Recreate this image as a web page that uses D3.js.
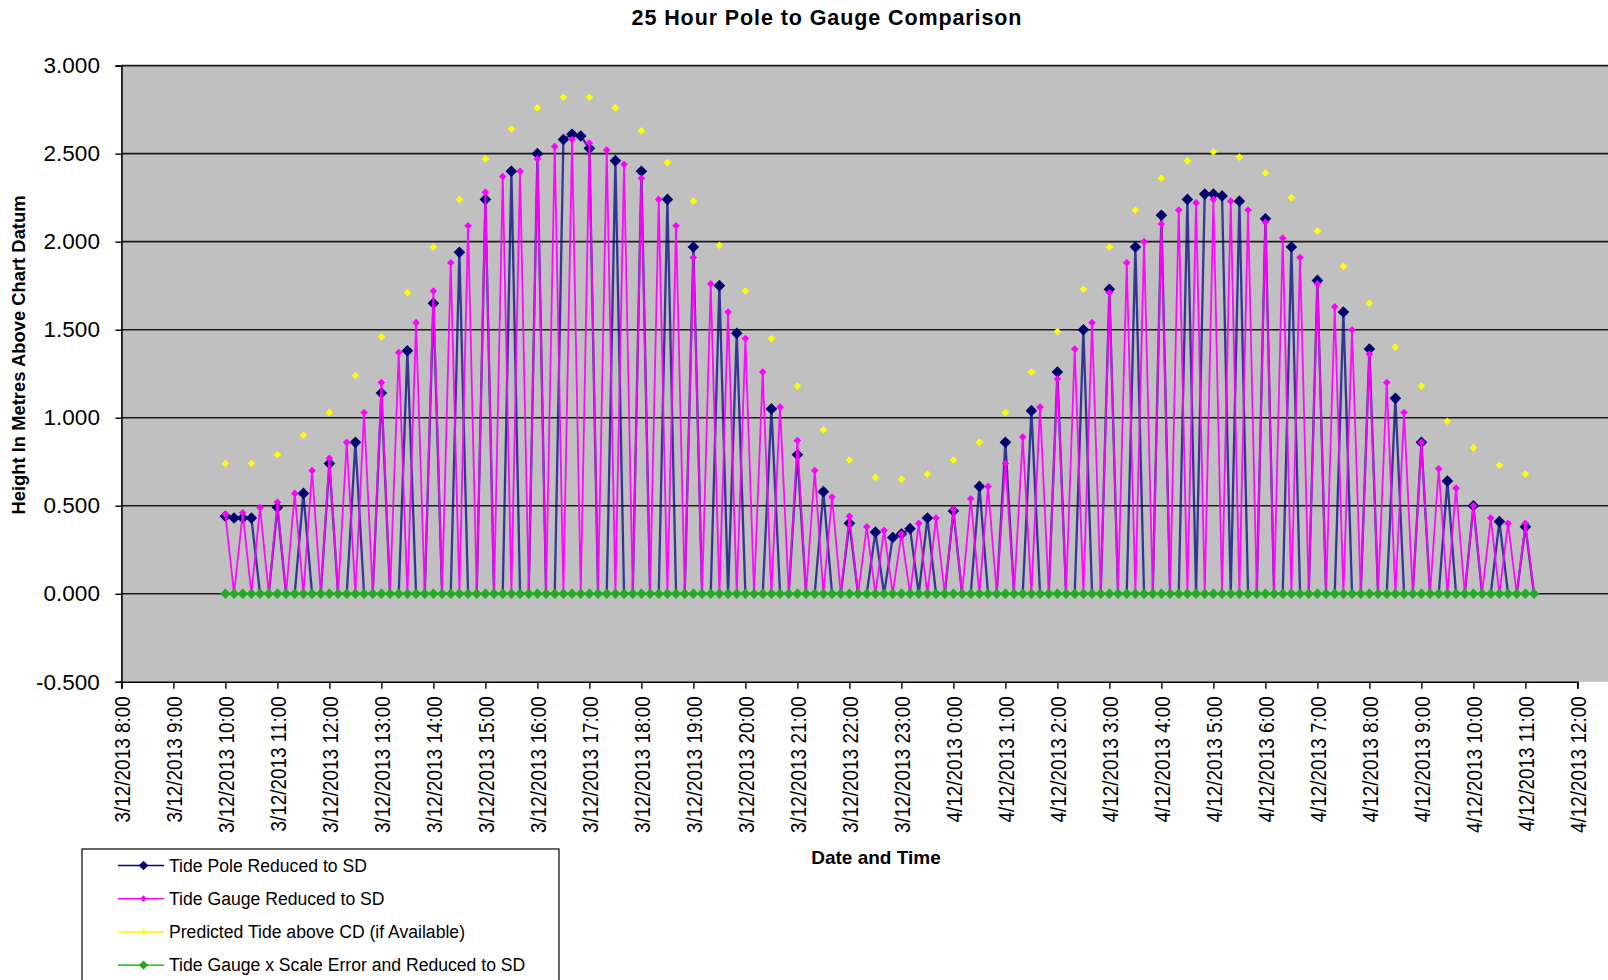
<!DOCTYPE html>
<html><head><meta charset="utf-8">
<script src="https://cdn.jsdelivr.net/npm/d3@7"></script>
<style>
html,body{margin:0;padding:0;background:#fff;}
text{font-family:"Liberation Sans",Arial,sans-serif;}
</style></head>
<body><svg id="chart" width="1608" height="980"></svg>
<script>
// ---------- DATA ----------
const chartTitle = "25 Hour Pole to Gauge Comparison";
const xTitle = "Date and Time";
const yTitle = "Height In Metres Above Chart Datum";
const seriesNames = ["Tide Pole Reduced to SD","Tide Gauge Reduced to SD","Predicted Tide above CD (if Available)","Tide Gauge x Scale Error and Reduced to SD"];
const seriesColors = ["#000080","#FF00FF","#FFFF00","#22AA22"];
const firstSlot = "3/12/2013 10:00";   // readings every 10 minutes from here
const slotMinutes = 10;
const tickLabels = ["3/12/2013 8:00","3/12/2013 9:00","3/12/2013 10:00","3/12/2013 11:00","3/12/2013 12:00","3/12/2013 13:00","3/12/2013 14:00","3/12/2013 15:00","3/12/2013 16:00","3/12/2013 17:00","3/12/2013 18:00","3/12/2013 19:00","3/12/2013 20:00","3/12/2013 21:00","3/12/2013 22:00","3/12/2013 23:00","4/12/2013 0:00","4/12/2013 1:00","4/12/2013 2:00","4/12/2013 3:00","4/12/2013 4:00","4/12/2013 5:00","4/12/2013 6:00","4/12/2013 7:00","4/12/2013 8:00","4/12/2013 9:00","4/12/2013 10:00","4/12/2013 11:00","4/12/2013 12:00"];
const yTicks = [-0.5,0,0.5,1,1.5,2,2.5,3];
const _ = null;
// one row per hour (six 10-minute slots), starting 10:00
const tidePole = [
0.44,0.43,0.43,0.43,0,0,
0.49,0,0,0.57,0,0,
0.74,0,0,0.86,0,0,
1.14,0,0,1.38,0,0,
1.65,0,0,1.94,0,0,
2.24,0,0,2.40,0,0,
2.50,0,0,2.58,2.61,2.60,
2.53,0,0,2.46,0,0,
2.40,0,0,2.24,0,0,
1.97,0,0,1.75,0,1.48,
0,0,0,1.05,0,0,
0.79,0,0,0.58,0,0,
0.40,0,0,0.35,0,0.32,
0.34,0.37,0,0.43,0,0,
0.47,0,0,0.61,0,0,
0.86,0,0,1.04,0,0,
1.26,0,0,1.50,0,0,
1.73,0,0,1.97,0,0,
2.15,0,0,2.24,0,2.27,
2.27,2.26,0,2.23,0,0,
2.13,0,0,1.97,0,0,
1.78,0,0,1.60,0,0,
1.39,0,0,1.11,0,0,
0.86,0,0,0.64,0,0,
0.50,0,0,0.41,0,0,
0.38,0];
const tideGauge = [
0.45,0,0.46,0,0.49,0,
0.52,0,0.57,0,0.70,0,
0.77,0,0.86,0,1.03,0,
1.20,0,1.37,0,1.54,0,
1.72,0,1.88,0,2.09,0,
2.28,0,2.37,0,2.40,0,
2.47,0,2.54,0,2.58,0,
2.56,0,2.52,0,2.44,0,
2.36,0,2.24,0,2.09,0,
1.91,0,1.76,0,1.60,0,
1.45,0,1.26,0,1.06,0,
0.87,0,0.70,0,0.55,0,
0.44,0,0.38,0,0.36,0,
0.34,0,0.40,0,0.43,0,
0.48,0,0.54,0,0.61,0,
0.74,0,0.89,0,1.06,0,
1.22,0,1.39,0,1.54,0,
1.71,0,1.88,0,2.00,0,
2.10,0,2.18,0,2.22,0,
2.24,0,2.23,0,2.18,0,
2.11,0,2.02,0,1.91,0,
1.76,0,1.63,0,1.50,0,
1.36,0,1.20,0,1.03,0,
0.86,0,0.71,0,0.60,0,
0.50,0,0.43,0,0.40,0,
0.40,0];
const predictedTide = [
0.74,_,_,0.74,_,_,
0.79,_,_,0.90,_,_,
1.03,_,_,1.24,_,_,
1.46,_,_,1.71,_,_,
1.97,_,_,2.24,_,_,
2.47,_,_,2.64,_,_,
2.76,_,_,2.82,_,_,
2.82,_,_,2.76,_,_,
2.63,_,_,2.45,_,_,
2.23,_,_,1.98,_,_,
1.72,_,_,1.45,_,_,
1.18,_,_,0.93,_,_,
0.76,_,_,0.66,_,_,
0.65,_,_,0.68,_,_,
0.76,_,_,0.86,_,_,
1.03,_,_,1.26,_,_,
1.49,_,_,1.73,_,_,
1.97,_,_,2.18,_,_,
2.36,_,_,2.46,_,_,
2.51,_,_,2.48,_,_,
2.39,_,_,2.25,_,_,
2.06,_,_,1.86,_,_,
1.65,_,_,1.40,_,_,
1.18,_,_,0.98,_,_,
0.83,_,_,0.73,_,_,
0.68,_];
const gaugeScaled = [
0,0,0,0,0,0, 0,0,0,0,0,0, 0,0,0,0,0,0, 0,0,0,0,0,0, 0,0,0,0,0,0,
0,0,0,0,0,0, 0,0,0,0,0,0, 0,0,0,0,0,0, 0,0,0,0,0,0, 0,0,0,0,0,0,
0,0,0,0,0,0, 0,0,0,0,0,0, 0,0,0,0,0,0, 0,0,0,0,0,0, 0,0,0,0,0,0,
0,0,0,0,0,0, 0,0,0,0,0,0, 0,0,0,0,0,0, 0,0,0,0,0,0, 0,0,0,0,0,0,
0,0,0,0,0,0, 0,0,0,0,0,0, 0,0,0,0,0,0, 0,0,0,0,0,0, 0,0,0,0,0,0,
0,0];

// ---------- CHART ----------
const parse = d3.timeParse("%d/%m/%Y %H:%M");
const start = parse(firstSlot);
const slotTimes = tidePole.map((v,i)=>d3.timeMinute.offset(start, i*slotMinutes));
const tickTimes = tickLabels.map(parse);

const svg = d3.select("#chart");
const pLeft = 121.4, pRight = 1577.4, pEdge = 1608, pTop = 65.6, pBottom = 681.8;
const x = d3.scaleTime().domain([tickTimes[0], tickTimes[tickTimes.length-1]]).range([pLeft, pRight]);
const y = d3.scaleLinear().domain([-0.5, 3]).range([pBottom, pTop]);

svg.append("rect").attr("x",pLeft).attr("y",pTop).attr("width",pEdge-pLeft).attr("height",pBottom-pTop).attr("fill","#C0C0C0");

// gridlines
svg.append("g").selectAll("line").data(yTicks.filter(d=>d>-0.5)).join("line")
  .attr("x1",pLeft).attr("x2",pEdge).attr("y1",d=>y(d)).attr("y2",d=>y(d))
  .attr("stroke","#1a1a1a").attr("stroke-width",1.6);

const diamond = r => `M0,${-r}L${r},0L0,${r}L${-r},0Z`;
function drawSeries(vals, color, lw, lineOpacity, r, markerColor, markZeros){
  const pts = vals.map((v,i)=>({t:slotTimes[i], v}));
  const line = d3.line().defined(d=>d.v!==null).x(d=>x(d.t)).y(d=>y(d.v));
  svg.append("path").datum(pts).attr("d",line).attr("fill","none")
    .attr("stroke",color).attr("stroke-width",lw).attr("stroke-opacity",lineOpacity)
    .attr("stroke-linejoin","round");
  svg.append("g").selectAll("path").data(pts.filter(d=>d.v!==null && (d.v!==0 || markZeros))).join("path")
    .attr("transform",d=>`translate(${x(d.t)},${y(d.v)})`)
    .attr("d",diamond(r)).attr("fill",markerColor);
}
drawSeries(tidePole, seriesColors[0], 2.3, 0.72, 5.8, "#000070", false);
drawSeries(tideGauge, seriesColors[1], 1.8, 0.95, 3.8, "#FF00FF", false);
drawSeries(predictedTide, seriesColors[2], 1.5, 1, 3.8, "#FFFF00", false);
drawSeries(gaugeScaled, "#33CC33", 2, 1, 5.2, "#22AA22", true);

// y axis
const fmt = d3.format(".3f");
const yAxis = svg.append("g").attr("transform",`translate(${pLeft},0)`)
  .call(d3.axisLeft(y).tickValues(yTicks).tickSize(6).tickPadding(15.5).tickFormat(d=>fmt(d).replace("\u2212","-")));
yAxis.select(".domain").attr("stroke","#000").attr("stroke-width",1.6);
yAxis.selectAll(".tick line").attr("stroke","#000").attr("stroke-width",1.4);
yAxis.selectAll("text").attr("font-size","22.5px").attr("fill","#000").style("font-family","'Liberation Sans',Arial,sans-serif");

// x axis
const xAxis = svg.append("g").attr("transform",`translate(0,${pBottom})`)
  .call(d3.axisBottom(x).tickValues(tickTimes).tickSize(7).tickFormat((d,i)=>tickLabels[i]));
xAxis.select(".domain").attr("stroke","#000").attr("stroke-width",1.6);
xAxis.selectAll(".tick line").attr("stroke","#000").attr("stroke-width",1.4);
xAxis.selectAll(".tick text")
  .attr("transform","translate(0,14.5) rotate(-90) scale(0.86,1)")
  .attr("x",0).attr("y",0).attr("dy","0.36em")
  .attr("text-anchor","end").attr("font-size","22px").attr("fill","#000")
  .style("font-family","'Liberation Sans',Arial,sans-serif");

// titles
svg.append("text").attr("x",827).attr("y",25).attr("text-anchor","middle")
  .attr("font-size","21.5px").attr("font-weight","bold").attr("letter-spacing","0.9px").text(chartTitle);
svg.append("text").attr("x",876).attr("y",864).attr("text-anchor","middle")
  .attr("font-size","19px").attr("font-weight","bold").text(xTitle);
svg.append("text").attr("transform","translate(25,355) rotate(-90)").attr("text-anchor","middle")
  .attr("font-size","18.4px").attr("font-weight","bold").text(yTitle);

// legend
const lg = svg.append("g");
lg.append("rect").attr("x",82).attr("y",849).attr("width",477).attr("height",200)
  .attr("fill","#fff").attr("stroke","#000").attr("stroke-width",1.2);
const legendLine = ["#000080","#FF00FF","#FFFF00","#33CC33"];
const legendMarker = ["#000070","#FF00FF","#FFFF00","#22AA22"];
const legendR = [4.8,3.4,3.2,4.6];
seriesNames.forEach((name,i)=>{
  const yy = 865.5 + i*33.2;
  lg.append("line").attr("x1",118).attr("x2",164).attr("y1",yy).attr("y2",yy)
    .attr("stroke",legendLine[i]).attr("stroke-width",1.6);
  lg.append("path").attr("transform",`translate(143.5,${yy})`).attr("d",diamond(legendR[i])).attr("fill",legendMarker[i]);
  lg.append("text").attr("x",169).attr("y",yy).attr("dy","0.36em").attr("font-size","17.6px").text(name);
});
</script></body></html>
